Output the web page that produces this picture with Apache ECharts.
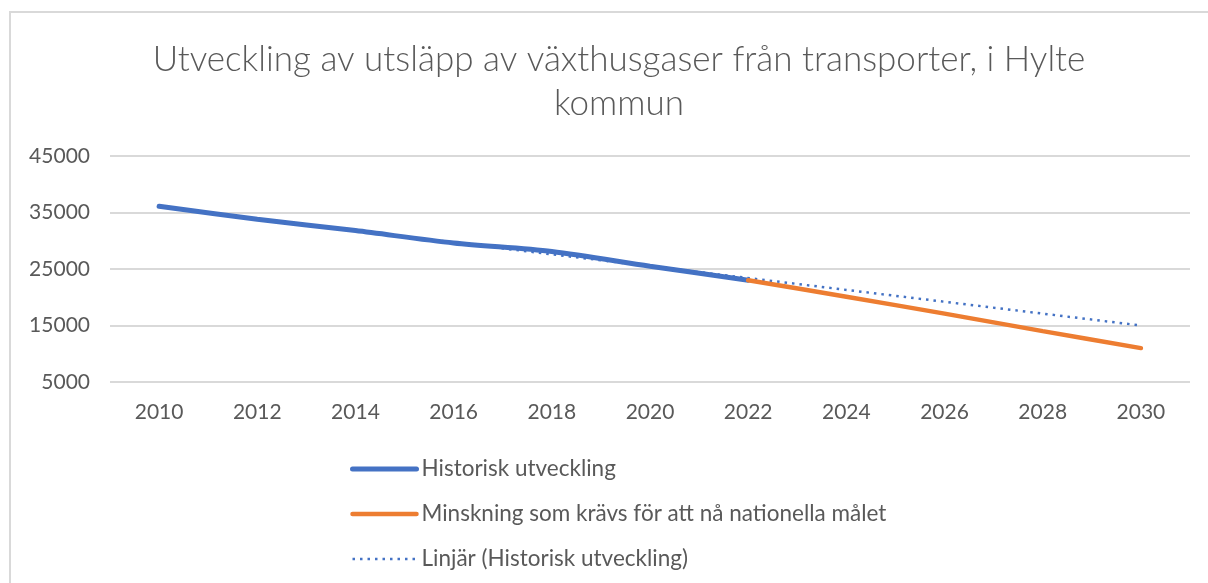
<!DOCTYPE html>
<html>
<head>
<meta charset="utf-8">
<script src="https://cdn.jsdelivr.net/npm/echarts@6/dist/echarts.min.js"></script>
<style>
  html, body { margin: 0; padding: 0; background: #fff; }
  #main { width: 1208px; height: 583px; }
</style>
</head>
<body>
<div id="main"></div>
<script>
// years on the category axis (every second year)
var years = ['2010', '2012', '2014', '2016', '2018', '2020', '2022', '2024', '2026', '2028', '2030'];

// historical emissions
var historisk = [36100, 33800, 31800, 29600, 28100, 25500, 23000, null, null, null, null];

// reduction needed for the national target
var minskning = [null, null, null, null, null, null, 23000, 20100, 17100, 14000, 11000];

// linear trend of the historical series (only end points, drawn straight)
var linjar = [36000, null, null, null, null, null, null, null, null, null, 15000];

var names = [
    'Historisk utveckling',
    'Minskning som krävs för att nå nationella målet',
    'Linjär (Historisk utveckling)'
];

var font = 'Lato, "Open Sans", sans-serif';
var grey = '#595959';

var chart = echarts.init(document.getElementById('main'));

chart.setOption({
    backgroundColor: '#fff',
    animation: false,
    graphic: [{
        type: 'rect',
        shape: { x: 10, y: 12, width: 1400, height: 800 },
        style: { fill: 'none', stroke: '#d9d9d9', lineWidth: 2 },
        silent: true
    }],
    title: {
        text: 'Utveckling av utsläpp av växthusgaser från transporter, i Hylte\nkommun',
        left: 614,
        top: 33,
        textAlign: 'center',
        textStyle: {
            fontFamily: font,
            fontSize: 35,
            fontWeight: 300,
            color: grey,
            lineHeight: 44
        }
    },
    grid: {
        left: 110,
        right: 18,
        top: 156,
        bottom: 201
    },
    legend: {
        orient: 'vertical',
        left: 345,
        top: 452,
        itemWidth: 64,
        itemHeight: 14,
        itemGap: 21,
        itemStyle: { opacity: 0 },
        data: [
            { name: names[0], lineStyle: { width: 5 } },
            { name: names[1], lineStyle: { width: 4.5 } },
            { name: names[2], lineStyle: { width: 2.5 } }
        ],
        textStyle: {
            fontFamily: font,
            fontSize: 22.5,
            color: grey,
            lineHeight: 24
        }
    },
    xAxis: {
        type: 'category',
        data: years,
        boundaryGap: true,
        axisLine: { show: false },
        axisTick: { show: false },
        axisLabel: {
            margin: 20,
            fontFamily: font,
            fontSize: 21,
            color: grey
        }
    },
    yAxis: {
        type: 'value',
        min: 5000,
        max: 45000,
        interval: 10000,
        axisLine: { show: false },
        axisTick: { show: false },
        axisLabel: {
            margin: 20,
            fontFamily: font,
            fontSize: 21,
            color: grey,
            formatter: function (v) { return String(v); }
        },
        splitLine: {
            lineStyle: { color: '#d9d9d9', width: 2 }
        }
    },
    series: [{
        name: names[0],
        type: 'line',
        data: historisk,
        smooth: 0.3,
        symbol: 'none',
        z: 3,
        lineStyle: { color: '#4472C4', width: 5, cap: 'round' },
        itemStyle: { color: '#4472C4' }
    }, {
        name: names[1],
        type: 'line',
        data: minskning,
        smooth: 0.3,
        symbol: 'none',
        z: 3,
        lineStyle: { color: '#ED7D31', width: 4.5, cap: 'round' },
        itemStyle: { color: '#ED7D31' }
    }, {
        name: names[2],
        type: 'line',
        data: linjar,
        connectNulls: true,
        symbol: 'none',
        z: 2,
        lineStyle: { color: '#4472C4', width: 2.5, type: [2.5, 5] },
        itemStyle: { color: '#4472C4' }
    }]
});
</script>
</body>
</html>
